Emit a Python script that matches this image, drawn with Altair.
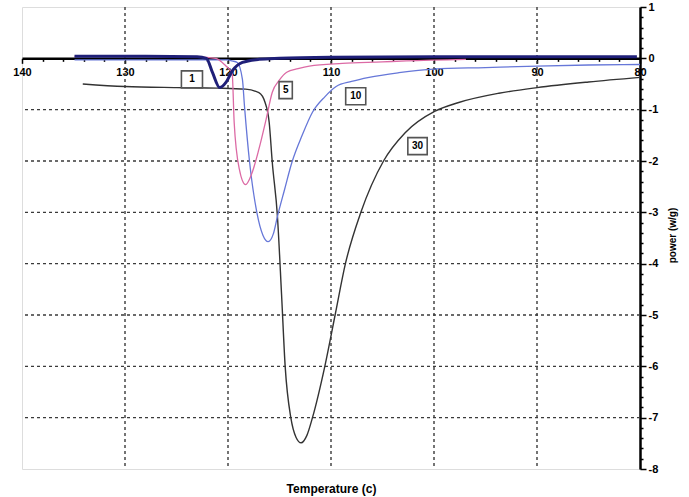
import altair as alt
import pandas as pd

# ---- data ----
T30 = [134.1, 130.0, 125.0, 121.0, 118.3, 117.0, 116.4, 116.0, 115.7, 115.2, 114.8, 114.45,
       113.9, 113.4, 112.9, 112.35, 111.8, 110.6, 109.6, 108.6, 107.1, 104.9, 102.8, 99.9,
       97.6, 93.7, 90.0, 85.0, 80.0]
P30 = [-0.50, -0.55, -0.57, -0.58, -0.60, -0.67, -0.86, -1.25, -2.03, -3.08, -4.60, -6.00,
       -7.00, -7.38, -7.49, -7.35, -7.00, -6.00, -5.00, -4.00, -3.00, -2.00, -1.45, -1.03,
       -0.86, -0.68, -0.57, -0.46, -0.37]

T10 = [134.9, 128.0, 122.0, 120.0, 119.6, 119.1, 118.6, 118.4, 117.9, 117.2, 116.6, 116.1,
       115.6, 115.2, 114.5, 113.8, 112.8, 111.8, 110.6, 109.5, 108.0, 106.3, 103.4, 100.0,
       95.0, 90.0, 85.0, 80.0]
P10 = [-0.03, -0.03, -0.03, -0.03, -0.05, -0.08, -0.41, -0.93, -2.03, -3.00, -3.45, -3.57,
       -3.42, -3.08, -2.55, -2.03, -1.50, -1.05, -0.75, -0.55, -0.45, -0.37, -0.28, -0.21,
       -0.18, -0.15, -0.13, -0.12]

T5 = [134.9, 128.0, 123.0, 121.2, 120.2, 119.6, 119.4, 118.9, 118.3, 117.7, 117.0, 116.3,
      115.7, 115.0, 114.3, 113.2, 112.1, 108.9, 105.0, 102.7, 96.9]
P5 = [0.04, 0.04, 0.03, 0.0, -0.15, -0.28, -1.25, -2.16, -2.46, -2.25, -1.77, -1.19,
      -0.66, -0.42, -0.27, -0.20, -0.15, -0.10, -0.07, -0.05, -0.02]

T1 = [134.9, 128.0, 123.0, 122.1, 121.5, 120.8, 120.2, 119.6, 118.6, 117.0, 115.0, 110.0,
      100.0, 90.0, 80.3]
P1 = [0.04, 0.04, 0.03, 0.0, -0.28, -0.57, -0.47, -0.25, -0.08, -0.02, 0.0, 0.02,
      0.03, 0.03, 0.03]

lab_text = ["1", "5", "10", "30"]
lab_T = [123.5, 114.4, 107.6, 101.6]
lab_P = [-0.41, -0.62, -0.74, -1.71]

grid_T = [130, 120, 110, 100, 90]
grid_P = [-1, -2, -3, -4, -5, -6, -7]
x_ticks = list(range(80, 141, 2))
y_ticks = [round(-8 + 0.2 * i, 1) for i in range(46)]

# ---- layout / style ----
W, H = 618, 462
Y0 = H / 9.0
FONT = "Liberation Sans"

xs = alt.Scale(domain=[80, 140], reverse=True, nice=False, zero=False)
ys = alt.Scale(domain=[-8, 1], nice=False, zero=False)

xaxis = alt.Axis(
    values=x_ticks, orient="bottom", offset=-(H - Y0), grid=False,
    domainColor="black", domainWidth=2.5, tickColor="black", tickWidth=1.5,
    tickSize={"condition": {"test": "datum.value % 10 === 0", "value": 5}, "value": 3},
    labelExpr="datum.value % 10 === 0 ? datum.label : ''",
    labelOverlap=False, labelFlush=False, labelFont=FONT, labelFontWeight="bold",
    labelFontSize=11, labelColor="black", labelPadding=3,
    title="Temperature (c)", titleFont=FONT, titleFontWeight="bold", titleFontSize=12,
    titleColor="black", titleY=H - Y0 + 430 - 410.7, titleBaseline="middle",
)
yaxis = alt.Axis(
    values=y_ticks, orient="right", grid=False,
    domainColor="black", domainWidth=2.5, tickColor="black", tickWidth=1.5,
    tickSize={"condition": {"test": "abs(datum.value - round(datum.value)) < 0.01", "value": 6},
              "value": 3},
    labelExpr="abs(datum.value - round(datum.value)) < 0.01 ? '' + round(datum.value) : ''",
    labelOverlap=False, labelFlush=False, labelFont=FONT, labelFontWeight="bold",
    labelFontSize=11, labelColor="black", labelPadding=2,
    title="power (w/g)", titleFont=FONT, titleFontWeight="bold", titleFontSize=10,
    titleColor="black", titleAngle=270, titleX=32, titleY=228,
    titleAlign="center", titleBaseline="middle",
)

X = lambda f: alt.X(f, scale=xs, axis=xaxis)
Y = lambda f: alt.Y(f, scale=ys, axis=yaxis)

vgrid = alt.Chart(pd.DataFrame({"g": grid_T})).mark_rule(
    strokeDash=[3, 3], color="#3a3a3a", strokeWidth=1.4).encode(x=X("g:Q"))
hgrid = alt.Chart(pd.DataFrame({"g": grid_P})).mark_rule(
    strokeDash=[3, 3], color="#3a3a3a", strokeWidth=1.4).encode(y=Y("g:Q"))


def line_layer(T, P, color, width):
    df = pd.DataFrame({"T": T, "P": P, "i": list(range(len(T)))})
    return alt.Chart(df).mark_line(color=color, strokeWidth=width, interpolate="monotone").encode(
        x=X("T:Q"), y=Y("P:Q"), order="i:Q")


l30 = line_layer(T30, P30, "#333333", 1.4)
l10 = line_layer(T10, P10, "#6677d8", 1.3)
l5 = line_layer(T5, P5, "#dc6aa5", 1.3)
l1 = line_layer(T1, P1, "#1f1f78", 3.0)

lab_df = pd.DataFrame({"T": lab_T, "P": lab_P, "lab": lab_text})
paths = [
    "M -1.24 -1 L 1.24 -1 L 1.24 1 L -1.24 1 Z",
    "M -0.78 -1 L 0.78 -1 L 0.78 1 L -0.78 1 Z",
    "M -1.18 -1 L 1.18 -1 L 1.18 1 L -1.18 1 Z",
    "M -1.14 -1 L 1.14 -1 L 1.14 1 L -1.14 1 Z",
]
boxes = alt.Chart(lab_df).mark_point(
    filled=True, fill="white", stroke="#555555", strokeWidth=1.6, size=289,
    opacity=1, fillOpacity=1, strokeOpacity=1).encode(
    x=X("T:Q"), y=Y("P:Q"),
    shape=alt.Shape("lab:N", scale=alt.Scale(domain=lab_text, range=paths), legend=None))
texts = alt.Chart(lab_df).mark_text(
    font=FONT, fontWeight="bold", fontSize=10, color="black", align="center",
    baseline="middle").encode(x=X("T:Q"), y=Y("P:Q"), text="lab:N")

chart = alt.layer(vgrid, hgrid, l30, l10, l5, l1, boxes, texts).properties(
    width=W, height=H,
    autosize=alt.AutoSizeParams(type="none"),
    padding={"left": 22, "top": 7, "right": 49, "bottom": 28},
).configure_view(stroke="#aaaaaa", strokeWidth=1.5).configure(background="white")

chart.save("out.html", embed_options={"renderer": "svg", "actions": False})
